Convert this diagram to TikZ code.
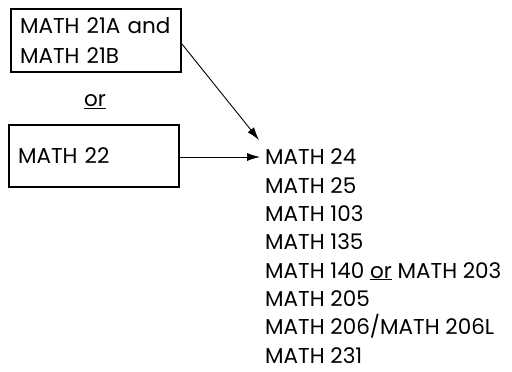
\documentclass[tikz,border=0pt]{standalone}
\usepackage{fontspec}
\setmainfont{Poppins}
\usepackage{tikz}
\usetikzlibrary{arrows.meta, positioning}

\tikzset{
  course/.style={draw, line width=1.1pt, align=left, inner xsep=0pt, font=\fontsize{21.5}{30}\selectfont},
  link/.style={line width=0.9pt, -{Latex[length=13pt, width=8pt]}},
  plain/.style={font=\fontsize{21.5}{28.3}\selectfont, inner sep=0pt}
}

\begin{document}
\begin{tikzpicture}[x=1pt, y=-1pt]
\useasboundingbox (0,0) rectangle (512,372);
	\node[course, minimum width=170pt, minimum height=63pt, text width=152pt] (box1) at (96,40.5) {MATH 21A and\\MATH 21B};
	\node[plain] (orword) at (95,102) {\underline{or}};
	\node[course, minimum width=170pt, minimum height=62pt, text width=152pt] (box2) at (94,156) {MATH 22};
	% base is the last line here
	\node[plain, align=left, anchor=base west] (list) at (265,363) {MATH 24\\MATH 25\\MATH 103\\MATH 135\\MATH 140 \underline{or} MATH 203\\MATH 205\\MATH 206/MATH 206L\\MATH 231};
	\coordinate (hit1) at (259,140);
	\coordinate (hit2) at (260,157);
	\draw[link] ([yshift=-3pt]box1.east) -- (hit1);
	\draw[link] ([yshift=-1pt]box2.east) -- (hit2);
\end{tikzpicture}
\end{document}
